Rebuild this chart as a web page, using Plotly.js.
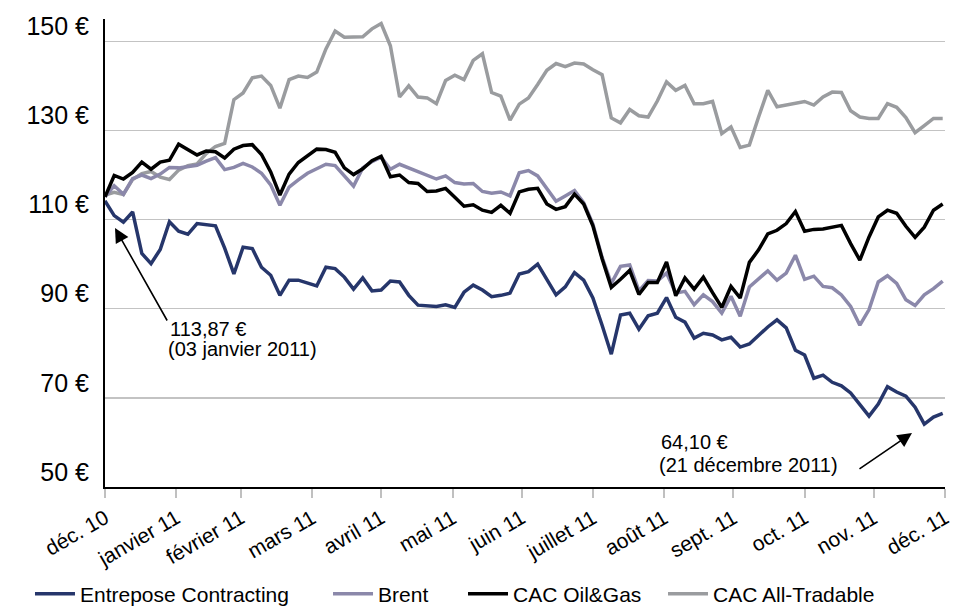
<!DOCTYPE html>
<html>
<head>
<meta charset="utf-8">
<script src="https://cdn.plot.ly/plotly-3.0.1.min.js"></script>
<style>html,body{margin:0;padding:0;background:#fff;}#chart{width:958px;height:608px;}</style>
</head>
<body>
<div id="chart"></div>
<script>
const dates = ['2010-12-31','2011-01-04','2011-01-08','2011-01-12','2011-01-16','2011-01-20','2011-01-24','2011-01-28','2011-02-01','2011-02-05','2011-02-09','2011-02-13','2011-02-17','2011-02-21','2011-02-25','2011-03-01','2011-03-05','2011-03-09','2011-03-13','2011-03-17','2011-03-21','2011-03-25','2011-03-29','2011-04-02','2011-04-06','2011-04-10','2011-04-14','2011-04-18','2011-04-22','2011-04-26','2011-04-30','2011-05-04','2011-05-08','2011-05-12','2011-05-16','2011-05-20','2011-05-24','2011-05-28','2011-06-01','2011-06-05','2011-06-09','2011-06-13','2011-06-17','2011-06-21','2011-06-25','2011-06-29','2011-07-03','2011-07-07','2011-07-11','2011-07-15','2011-07-19','2011-07-23','2011-07-27','2011-07-31','2011-08-04','2011-08-08','2011-08-12','2011-08-16','2011-08-20','2011-08-24','2011-08-28','2011-09-01','2011-09-05','2011-09-09','2011-09-13','2011-09-17','2011-09-21','2011-09-25','2011-09-29','2011-10-03','2011-10-07','2011-10-11','2011-10-15','2011-10-19','2011-10-23','2011-10-27','2011-10-31','2011-11-04','2011-11-08','2011-11-12','2011-11-16','2011-11-20','2011-11-24','2011-11-28','2011-12-02','2011-12-06','2011-12-10','2011-12-14','2011-12-18','2011-12-22','2011-12-26','2011-12-30'];

const entrepose = [114.2,110.9,109.4,111.7,102.4,100.1,103.3,109.5,107.4,106.7,
  109.1,108.8,108.6,103.6,97.8,103.8,103.5,99.3,97.5,93.0,
  96.4,96.4,95.8,95.1,99.3,99.0,97.1,94.4,96.9,94.0,
  94.2,96.2,96.0,93.0,90.8,90.7,90.5,90.9,90.3,93.7,
  95.3,94.2,92.7,93.0,93.5,97.8,98.3,100.0,96.4,93.1,
  94.9,98.1,96.4,92.4,86.3,79.8,88.6,89.0,85.4,88.4,
  89.0,92.5,88.1,87.0,83.4,84.5,84.1,83.0,83.6,81.4,
  82.1,84.1,85.9,87.5,85.7,80.7,79.6,74.4,75.1,73.5,
  72.7,71.1,68.4,65.9,68.6,72.5,71.3,70.4,67.9,64.1,
  65.7,66.5];

const brent = [115.1,117.6,115.7,119.2,120.0,119.2,120.2,121.7,121.6,121.9,
  122.2,123.1,123.9,121.2,121.7,122.6,121.8,120.4,117.8,113.2,
  117.3,118.9,120.4,121.4,122.4,122.1,119.8,117.5,121.6,123.0,
  124.0,121.3,122.4,121.6,120.7,120.0,119.1,119.8,118.3,118.0,
  118.1,116.3,115.9,116.2,115.3,120.5,121.0,119.8,117.0,114.1,
  115.3,116.5,113.8,109.0,101.5,95.7,99.5,99.8,94.0,96.3,
  96.2,98.0,93.5,93.9,90.9,93.1,91.6,89.0,92.8,88.3,
  94.9,96.6,98.5,96.4,98.0,102.0,96.6,97.3,95.0,94.7,
  93.1,90.5,86.3,89.8,96.0,97.4,95.7,92.0,90.7,93.1,
  94.5,96.2];

const cacOilGas = [115.1,119.9,119.1,120.6,122.9,121.3,122.9,123.3,126.9,125.8,
  124.5,125.4,125.2,123.8,125.8,126.6,126.8,124.6,120.7,115.5,
  120.2,122.8,124.2,125.8,125.7,125.1,121.6,120.1,121.4,123.2,
  124.2,119.6,120.0,118.3,118.1,116.3,116.4,117.0,115.0,113.0,
  113.3,112.1,111.6,113.2,111.4,116.2,116.8,117.0,113.5,112.3,
  112.9,115.7,113.5,108.6,101.2,94.8,96.6,98.6,93.2,95.9,
  95.9,100.5,92.9,96.9,94.4,97.1,93.6,90.3,95.0,92.4,
  100.4,103.2,106.8,107.6,109.1,111.8,107.4,107.8,107.9,108.3,
  108.7,104.6,100.9,106.1,110.6,112.1,111.4,108.5,106.0,108.3,
  112.1,113.5];

const cacAllTradable = [115.5,116.1,115.6,119.0,120.3,120.8,119.5,119.0,121.1,122.1,
  122.5,124.8,126.4,127.1,136.9,138.4,141.8,142.2,140.1,135.0,
  141.4,142.2,141.9,143.1,148.3,152.3,150.9,151.0,151.0,152.8,
  154.0,149.0,137.5,140.0,137.5,137.3,136.0,141.2,142.4,141.4,
  145.7,147.2,138.5,137.7,132.3,135.9,137.3,140.3,143.5,145.0,
  144.3,145.1,144.9,143.6,142.5,132.8,131.7,134.7,133.3,133.0,
  136.6,140.9,139.0,140.1,136.0,136.0,136.5,129.3,130.8,126.2,
  126.7,133.0,139.0,135.3,135.7,136.2,136.5,135.7,137.5,138.6,
  138.5,134.4,133.0,132.7,132.7,136.0,135.2,132.9,129.5,131.1,
  132.7,132.7];

const seriesNames = ['Entrepose Contracting','Brent','CAC Oil&Gas','CAC All-Tradable'];
const monthTicks = ['2010-12-31','2011-01-31','2011-02-28','2011-03-31','2011-04-30','2011-05-31','2011-06-30','2011-07-31','2011-08-31','2011-09-30','2011-10-31','2011-11-30','2011-12-31'];
const monthLabels = ['déc. 10','janvier 11','février 11','mars 11','avril 11','mai 11','juin 11','juillet 11','août 11','sept. 11','oct. 11','nov. 11','déc. 11'];
const yTicks = [50,70,90,110,130,150];
const yLabels = ['50 €','70 €','90 €','110 €','130 €','150 €'];
const noteStart = ['113,87 €','(03 janvier 2011)'];
const noteEnd = ['64,10 €','(21 décembre 2011)'];

const FONT = 'Liberation Sans, Arial, sans-serif';
const colors = {e:'#26366b', b:'#8b88aa', o:'#000000', a:'#9a9c9f'};
const LW = 3.5;

const traces = [
  {x:dates, y:cacAllTradable, name:seriesNames[3], type:'scatter', mode:'lines', line:{color:colors.a, width:LW}, legend:'legend4'},
  {x:dates, y:brent, name:seriesNames[1], type:'scatter', mode:'lines', line:{color:colors.b, width:LW}, legend:'legend2'},
  {x:dates, y:cacOilGas, name:seriesNames[2], type:'scatter', mode:'lines', line:{color:colors.o, width:LW}, legend:'legend3'},
  {x:dates, y:entrepose, name:seriesNames[0], type:'scatter', mode:'lines', line:{color:colors.e, width:LW}, legend:'legend'}
];

function leg(xp){
  return {x:xp, y:(487-594)/468, xanchor:'left', yanchor:'middle', orientation:'h',
    bgcolor:'rgba(0,0,0,0)', borderwidth:0, itemwidth:40,
    font:{family:FONT, size:21, color:'#000'}};
}

const annFont = {family:FONT, size:20, color:'#000'};
const layout = {
  width:958, height:608,
  margin:{l:105, r:13, t:19, b:121, autoexpand:false},
  paper_bgcolor:'#ffffff', plot_bgcolor:'#ffffff',
  font:{family:FONT, size:19, color:'#000'},
  showlegend:true,
  legend:leg(-0.0893),
  legend2:leg(0.2655),
  legend3:leg(0.4262),
  legend4:leg(0.6643),
  xaxis:{type:'date', range:['2010-12-31','2011-12-31'],
    tickmode:'array', tickvals:monthTicks, ticktext:monthLabels,
    tickangle:-30, ticks:'outside', ticklen:9, tickwidth:2, tickcolor:'#c0c0c0',
    showline:true, linecolor:'#000', linewidth:2, showgrid:false, zeroline:false,
    automargin:false,
    tickfont:{family:FONT, size:21, color:'#000'}},
  yaxis:{range:[50,155], tickmode:'array', tickvals:yTicks, ticktext:yLabels,
    showgrid:true, gridcolor:'#c3c3c3', gridwidth:1.5,
    showline:true, linecolor:'#000', linewidth:2, zeroline:false, ticks:'',
    ticklabelshift:-15, ticklabelstandoff:9, automargin:false,
    tickfont:{family:FONT, size:25, color:'#000'}},
  annotations:[
    {xref:'paper', yref:'paper', x:0.0119, y:0.5534, ax:53, ay:94, text:'', showarrow:true,
      arrowhead:2, arrowsize:1.8, arrowwidth:1.6, arrowcolor:'#000'},
    {xref:'paper', yref:'paper', x:0.9607, y:0.1154, ax:-54, ay:37, text:'', showarrow:true,
      arrowhead:2, arrowsize:1.8, arrowwidth:1.6, arrowcolor:'#000'},
    {xref:'paper', yref:'paper', x:(168-105)/840, y:(487-329)/468, xanchor:'left', yanchor:'middle',
      text:noteStart[0], showarrow:false, font:annFont},
    {xref:'paper', yref:'paper', x:(166-105)/840, y:(487-349)/468, xanchor:'left', yanchor:'middle',
      text:noteStart[1], showarrow:false, font:annFont},
    {xref:'paper', yref:'paper', x:(659-105)/840, y:(487-442)/468, xanchor:'left', yanchor:'middle',
      text:noteEnd[0], showarrow:false, font:annFont},
    {xref:'paper', yref:'paper', x:(657-105)/840, y:(487-465)/468, xanchor:'left', yanchor:'middle',
      text:noteEnd[1], showarrow:false, font:annFont}
  ]
};

Plotly.newPlot('chart', traces, layout, {displayModeBar:false, staticPlot:true});
</script>
</body>
</html>
